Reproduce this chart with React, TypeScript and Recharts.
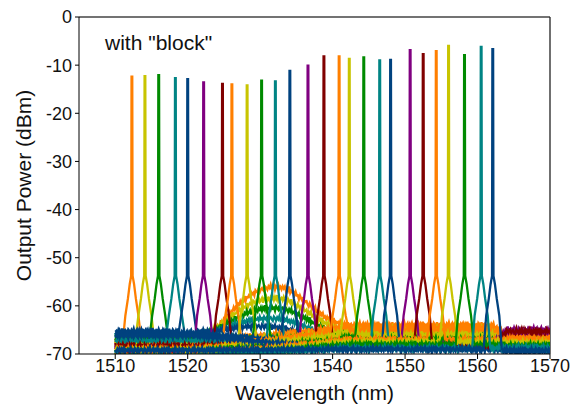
import { LineChart, Line, XAxis, YAxis, ReferenceLine, Label } from "recharts";

const FONT = 'Arial, "Liberation Sans", Helvetica, sans-serif';

// colour cycle used for the laser lines (repeats every 7)
const PALETTE = ["#ff7f00", "#c8c400", "#008a00", "#008484", "#00427f", "#800080", "#800000"];

// lasing wavelength and peak power of each trace
const PEAK_NM = [
    1512.3, 1514.1, 1516.0, 1518.3, 1520.0, 1522.2, 1524.8, 1526.1, 1528.2, 1530.2, 1532.1, 1534.1, 1536.6,
    1538.8, 1540.9, 1542.3, 1544.3, 1546.5, 1548.0, 1550.7, 1552.5, 1554.3, 1556.0, 1558.2, 1560.5, 1562.1,
];
const PEAK_DBM = [
    -12.4, -12.3, -12.1, -12.7, -12.9, -13.6, -13.9, -14.0, -14.2, -13.2, -13.4, -11.2, -10.1,
    -8.2, -8.2, -8.7, -8.4, -9.0, -8.9, -6.9, -7.7, -7.1, -6.0, -7.9, -6.2, -6.7,
];

// noise floor of each trace: 1510-1521, 1542-1562, 1564-1570
const FLOOR_LEFT = [
    -67.0, -66.5, -66.3, -66.0, -65.3, -68.5, -68.0, -67.5, -67.8, -66.8, -67.2, -65.6, -68.8,
    -68.3, -69.0, -69.2, -69.5, -69.8, -66.2, -70.0, -70.3, -70.5, -70.5, -70.8, -70.5, -69.2,
];
const FLOOR_RIGHT = [
    -64.0, -65.0, -66.0, -67.0, -68.0, -67.0, -67.5, -64.5, -65.5, -66.5, -67.5, -68.5, -67.8,
    -68.0, -65.0, -66.0, -67.0, -68.0, -69.0, -68.0, -68.2, -67.0, -67.5, -68.0, -68.8, -69.0,
];
const FLOOR_FAR = [
    -66.0, -67.0, -67.5, -68.0, -69.0, -66.5, -66.0, -66.5, -67.2, -67.8, -68.3, -69.2, -65.5,
    -65.2, -66.8, -67.5, -68.0, -68.5, -69.3, -65.0, -65.3, -67.0, -67.6, -68.2, -68.6, -69.2,
];

// ASE hump around 1532 nm (height above floor), only the first traces show it
const BUMP_AMP = [9.4, 7.3, 5.7, 3.9, 2.3, 1.2, 0, 0, 0, 0, 0, 0, 0, 0, 0, 0, 0, 0, 0, 0, 0, 0, 0, 0, 0, 0];
const BUMP_START = 1521;
const BUMP_SHAPE = [
    0, 0.05, 0.12, 0.22, 0.38, 0.53, 0.68, 0.8, 0.9, 0.96, 0.99, 1.0, 0.97, 0.9, 0.78, 0.64, 0.5, 0.35, 0.22,
    0.12, 0.05, 0,
];

// floor ripple (dB)
const JITTER = [
    0.2, -0.3, 0.5, -0.1, 0.1, -0.6, 0.4, 0.0, -0.3, 0.6, -0.4, 0.1, 0.3, -0.2, -0.5, 0.4, 0.1, -0.4, 0.3, -0.1,
    0.6, -0.3, 0.0, 0.4, -0.6, 0.2, -0.1, 0.5, -0.3, 0.1, -0.4, 0.3, -0.1, 0.4, -0.4, 0.3, -0.2, 0.7, -0.5, 0.1,
    -0.1,
];

// shape of each laser line below the knee (offset from centre in nm -> dBm)
const SKIRT_NM = [0.9, 0.55, 0.3, 0.1];
const SKIRT_DBM = [-62, -58.5, -55.5, -53.8];
const SKIRT_END = 1.25;
const TOP_NM = 0.05;

const X_TICKS = [1510, 1520, 1530, 1540, 1550, 1560, 1570];
const Y_TICKS = [0, -10, -20, -30, -40, -50, -60, -70];

const SCAN_START = 1510;
const SCAN_END = 1570;
const SCAN_STEP = 0.15;

function bumpAt(w: number) {
    const k = Math.floor(w - BUMP_START);
    if (k < 0 || k >= BUMP_SHAPE.length - 1) return 0;
    const f = w - BUMP_START - k;
    return BUMP_SHAPE[k] * (1 - f) + BUMP_SHAPE[k + 1] * f;
}

function baseAt(i: number, w: number) {
    if (w <= 1521) return FLOOR_LEFT[i];
    if (w < 1542) return FLOOR_LEFT[i] + ((FLOOR_RIGHT[i] - FLOOR_LEFT[i]) * (w - 1521)) / 21;
    if (w <= 1562) return FLOOR_RIGHT[i];
    if (w < 1564) return FLOOR_RIGHT[i] + ((FLOOR_FAR[i] - FLOOR_RIGHT[i]) * (w - 1562)) / 2;
    return FLOOR_FAR[i];
}

function floorAt(i: number, w: number, k: number) {
    return baseAt(i, w) + BUMP_AMP[i] * bumpAt(w) + JITTER[(k + i * 11) % JITTER.length];
}

function buildTrace(i: number) {
    const c = PEAK_NM[i];
    const pts: { x: number; y: number }[] = [];
    const n = Math.round((SCAN_END - SCAN_START) / SCAN_STEP);
    let added = false;
    for (let k = 0; k <= n; k++) {
        const w = SCAN_START + k * SCAN_STEP;
        if (Math.abs(w - c) < SKIRT_END) {
            if (!added) {
                added = true;
                pts.push({ x: c - SKIRT_END, y: floorAt(i, c - SKIRT_END, k) });
                SKIRT_NM.forEach((d, j) => pts.push({ x: c - d, y: SKIRT_DBM[j] }));
                pts.push({ x: c - TOP_NM, y: PEAK_DBM[i] });
                pts.push({ x: c + TOP_NM, y: PEAK_DBM[i] });
                for (let j = SKIRT_NM.length - 1; j >= 0; j--) pts.push({ x: c + SKIRT_NM[j], y: SKIRT_DBM[j] });
                pts.push({ x: c + SKIRT_END, y: floorAt(i, c + SKIRT_END, k + 3) });
            }
            continue;
        }
        pts.push({ x: w, y: floorAt(i, w, k) });
    }
    return pts;
}

const TRACES = PEAK_NM.map((_, i) => ({ color: PALETTE[i % PALETTE.length], points: buildTrace(i) }));

export default function App() {
    return (
        <div style={{ position: "absolute", left: 0, top: 0, width: 571, height: 410, background: "#fff", fontFamily: FONT }}>
            <LineChart width={571} height={410} margin={{ top: 17, right: 21, left: 0, bottom: 0 }}>
                <XAxis
                    type="number"
                    dataKey="x"
                    domain={[1505, 1570]}
                    ticks={X_TICKS}
                    allowDataOverflow
                    height={56}
                    stroke="#000"
                    tickSize={5}
                    tickMargin={0}
                    tick={{ fill: "#111", fontSize: 18, fontFamily: FONT }}
                >
                    <Label
                        value="Wavelength (nm)"
                        position="insideBottom"
                        offset={10}
                        style={{ fontSize: 21, fill: "#111", fontFamily: FONT }}
                    />
                </XAxis>
                <YAxis
                    type="number"
                    domain={[-70, 0]}
                    ticks={Y_TICKS}
                    allowDataOverflow
                    width={79}
                    stroke="#000"
                    tickSize={4}
                    tickMargin={3}
                    tick={{ fill: "#111", fontSize: 18, fontFamily: FONT }}
                >
                    <Label
                        value="Output Power (dBm)"
                        angle={-90}
                        position="insideLeft"
                        offset={24}
                        style={{ fontSize: 21, fill: "#111", fontFamily: FONT, textAnchor: "middle" }}
                    />
                </YAxis>
                <ReferenceLine y={0} stroke="#444" strokeWidth={1.3} />
                <ReferenceLine x={1570} stroke="#222" strokeWidth={1.3} />
                {TRACES.map((t, i) => (
                    <Line
                        key={i}
                        data={t.points}
                        dataKey="y"
                        type="linear"
                        stroke={t.color}
                        strokeWidth={2.3}
                        dot={false}
                        activeDot={false}
                        isAnimationActive={false}
                    />
                ))}
            </LineChart>
            <svg width={571} height={410} style={{ position: "absolute", left: 0, top: 0, pointerEvents: "none" }}>
                <text x={105} y={50} fontSize={21} fill="#111" fontFamily={FONT}>
                    with "block"
                </text>
            </svg>
        </div>
    );
}
